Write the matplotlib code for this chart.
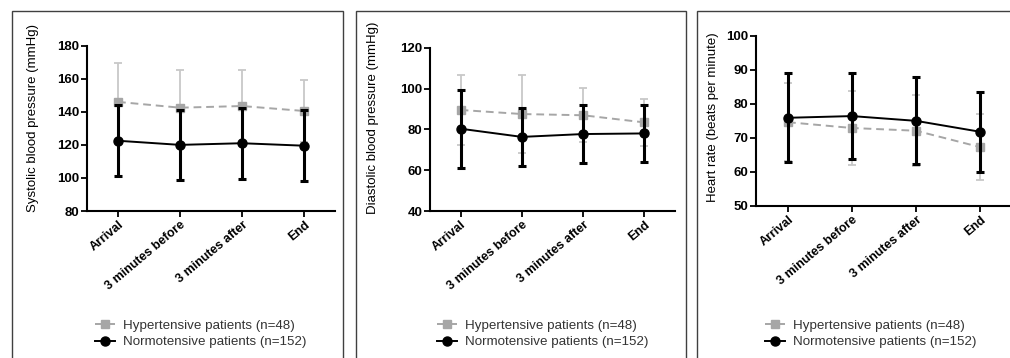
import numpy as np
import matplotlib
matplotlib.use("Agg")
import matplotlib.pyplot as plt
from matplotlib.patches import Rectangle
from matplotlib.lines import Line2D

plt.rcParams['font.family'] = ['Liberation Sans', 'DejaVu Sans']

cats = ['Arrival', '3 minutes before', '3 minutes after', 'End']
lab_hyp = 'Hypertensive patients (n=48)'
lab_norm = 'Normotensive patients (n=152)'

# systolic
sys_hyp = [146, 142.5, 143.5, 140.5]
sys_hyp_sd = [23.5, 22.5, 22, 19]
sys_norm = [122.5, 120, 121, 119.5]
sys_norm_sd = [21.5, 21, 21.5, 21.5]

# diastolic
dia_hyp = [89.5, 87.5, 86.9, 83.4]
dia_hyp_sd = [17, 19, 13.2, 11.4]
dia_norm = [80.3, 76.3, 77.7, 78.0]
dia_norm_sd = [19, 14.2, 14, 14]

# heart rate
hr_hyp = [74.6, 72.9, 72.1, 67.3]
hr_hyp_sd = [11.5, 11, 10.5, 9.6]
hr_norm = [75.9, 76.4, 75.0, 71.8]
hr_norm_sd = [13.1, 12.6, 12.8, 11.7]

W, H = 1010, 358
fig = plt.figure(figsize=(W / 100, H / 100), dpi=100)

# panel frames (pixels: left, right)
for l, r in [(12, 343), (356, 686), (697, 1020)]:
    fig.patches.append(Rectangle((l / W, -0.1), (r - l) / W, 1.1 - 11 / H,
                                 transform=fig.transFigure, fill=False,
                                 edgecolor='#404040', lw=1.0))

panels = [
    dict(pos=(87, 335, 45.7, 211), hyp=sys_hyp, hsd=sys_hyp_sd, norm=sys_norm, nsd=sys_norm_sd,
         ylim=(80, 180), ticks=range(80, 181, 20), ylabel='Systolic blood pressure (mmHg)',
         lab=(33, 118), leg=95),
    dict(pos=(430, 675, 47.7, 211), hyp=dia_hyp, hsd=dia_hyp_sd, norm=dia_norm, nsd=dia_norm_sd,
         ylim=(40, 120), ticks=range(40, 121, 20), ylabel='Diastolic blood pressure (mmHg)',
         lab=(373, 118), leg=437),
    dict(pos=(756, 1012, 35.7, 206), hyp=hr_hyp, hsd=hr_hyp_sd, norm=hr_norm, nsd=hr_norm_sd,
         ylim=(50, 100), ticks=range(50, 101, 10), ylabel='Heart rate (beats per minute)',
         lab=(713, 117.5), leg=765),
]

hyp_style = dict(color='#a6a6a6', ls=(0, (4, 2.5)), lw=1.4, marker='s', ms=5.5)
norm_style = dict(color='black', ls='-', lw=1.4, marker='o', ms=6.5)

x = np.arange(len(cats))
for p in panels:
    l, r, t, b = p['pos']
    ax = fig.add_axes([l / W, 1 - b / H, (r - l) / W, (b - t) / H])
    ax.errorbar(x, p['hyp'], yerr=p['hsd'], ecolor='#c8c8c8',
                elinewidth=1.3, capsize=3, capthick=1.3, zorder=2, **hyp_style)
    ax.errorbar(x, p['norm'], yerr=p['nsd'], ecolor='black',
                elinewidth=2.2, capsize=3, capthick=2.2, zorder=3, **norm_style)
    ax.set_xlim(-0.5, 3.5)
    ax.set_ylim(*p['ylim'])
    ax.set_yticks(list(p['ticks']))
    ax.set_xticks(x)
    ax.set_xticklabels(cats, rotation=40, ha='right', rotation_mode='anchor',
                       fontweight='bold', fontsize=9)
    for lb in ax.get_yticklabels():
        lb.set_fontweight('bold')
        lb.set_fontsize(9.5)
    for s in ['top', 'right']:
        ax.spines[s].set_visible(False)
    for s in ['left', 'bottom']:
        ax.spines[s].set_linewidth(1.5)
    ax.tick_params(width=1.3, length=4, pad=1.5)
    ax.set_ylabel(p['ylabel'], fontsize=9.5, va='center')
    ax.yaxis.set_label_coords((p['lab'][0] - l) / (r - l), (b - p['lab'][1]) / (b - t))
    handles = [Line2D([], [], **hyp_style), Line2D([], [], **norm_style)]
    ax.legend(handles, [lab_hyp, lab_norm], loc='center left',
              bbox_to_anchor=(p['leg'] / W, 1 - 334 / H),
              bbox_transform=fig.transFigure, frameon=False, fontsize=9.6,
              borderpad=0, borderaxespad=0, handlelength=1.5, handletextpad=0.6,
              labelspacing=0.3, labelcolor='#333333')

fig.savefig('out.png', dpi=100)
